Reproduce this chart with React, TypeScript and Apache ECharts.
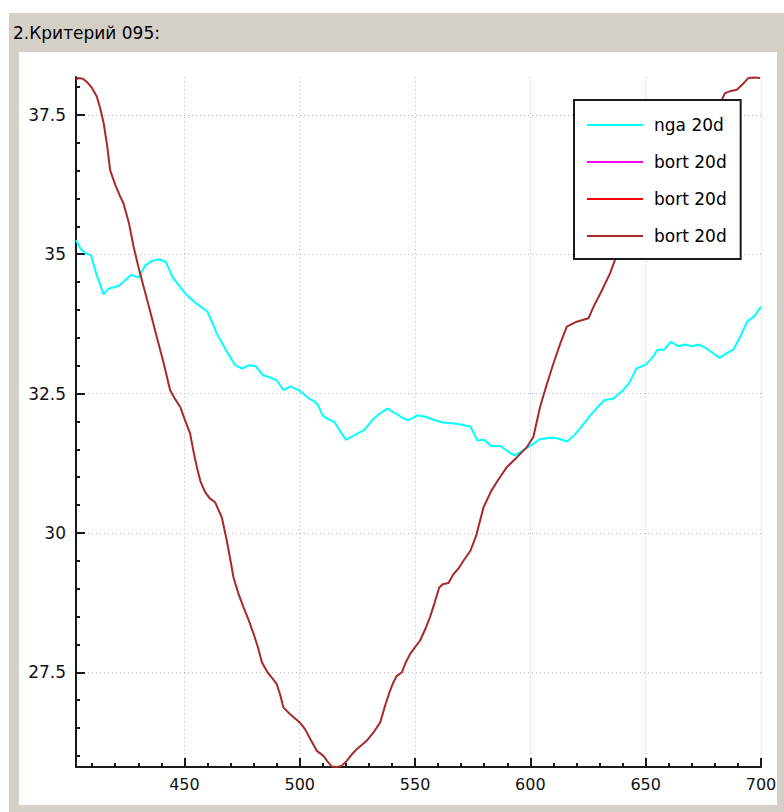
import React, { useEffect, useRef } from "react";
import * as echarts from "echarts";

// Axis extents and tick positions
const X_MIN = 403;
const X_MAX = 700;
const Y_MIN = 25.8;
const Y_MAX = 38.18;

const xMajorTicks = [450, 500, 550, 600, 650, 700];
const xMinorTicks = [
  410, 420, 430, 440, 460, 470, 480, 490, 510, 520, 530, 540, 560, 570, 580, 590,
  610, 620, 630, 640, 660, 670, 680, 690,
];
const yMajorTicks = [27.5, 30, 32.5, 35, 37.5];
const yMinorTicks = [
  26, 26.5, 27, 28, 28.5, 29, 29.5, 30.5, 31, 31.5, 32, 33, 33.5, 34, 34.5, 35.5, 36,
  36.5, 37, 38,
];

// nga 20d
const ngaX = [
  403, 405, 407, 409.5, 412, 415, 417, 418.6, 421.5, 424, 427, 430, 433, 436, 439, 442,
  445, 448, 451, 455, 460, 462, 464, 468, 472, 475, 478, 481, 484, 487, 490, 493, 496,
  500, 504, 506, 508, 510, 512, 515, 518, 520, 524, 528, 532, 535, 538, 541, 544, 547,
  551, 555, 558, 562, 568, 574, 577, 580, 583, 587, 590, 593, 596, 599, 602, 604, 607,
  610, 613, 616, 619, 622, 626, 629, 632, 636, 640, 643, 646, 650, 653, 655, 658, 661,
  664, 667, 670, 673, 676, 678, 682, 685, 688, 691, 694, 697, 700,
];
const ngaY = [
  35.25, 35.1, 35.02, 34.98, 34.62, 34.28, 34.38, 34.4, 34.43, 34.52, 34.63, 34.58,
  34.8, 34.88, 34.91, 34.86, 34.58, 34.42, 34.27, 34.12, 33.97, 33.78, 33.58, 33.28,
  33.01, 32.95, 33.01, 32.99, 32.83, 32.79, 32.74, 32.56, 32.63, 32.55, 32.41, 32.37,
  32.29, 32.1, 32.05, 31.99, 31.8, 31.67, 31.76, 31.85, 32.05, 32.15, 32.23, 32.16,
  32.08, 32.02, 32.11, 32.08, 32.03, 31.98, 31.96, 31.91, 31.66, 31.67, 31.56, 31.56,
  31.47, 31.39, 31.46, 31.54, 31.62, 31.68, 31.7, 31.71, 31.68, 31.64, 31.75, 31.9,
  32.11, 32.25, 32.38, 32.41, 32.55, 32.7, 32.95, 33.02, 33.15, 33.28, 33.29, 33.43,
  33.35, 33.38, 33.35, 33.38, 33.32, 33.26, 33.14, 33.22, 33.29, 33.52, 33.79, 33.88,
  34.06,
];

// bort 20d
const bortX = [
  403, 404, 406, 408, 410, 412, 413.5, 415, 416.5, 417.8, 420, 422, 423.6, 426, 428, 430,
  432.3, 435, 438, 441, 443.8, 446, 448.2, 450.3, 452.5, 454, 455.4, 457, 459, 461,
  463.3, 466.2, 468.4, 470, 471.3, 473.5, 475.6, 478, 480, 482, 483.6, 486, 488, 490,
  491.5, 492.9, 496, 500, 502.3, 505, 507.4, 510.3, 512, 513.9, 516, 518.2, 520.4,
  522.5, 524.7, 527, 529, 532, 534.9, 537, 539, 540.6, 542, 544.3, 546, 547.9, 550,
  552.2, 554.5, 556.5, 558.5, 560.5, 562, 564.5, 566.5, 569, 571, 574, 576.5, 579.7, 583,
  586, 589.8, 594, 598.5, 601.3, 604.2, 607, 610, 613, 615.8, 620.1, 625.2, 627.4, 631,
  634.6, 636.7, 642, 648, 654, 660, 666, 672, 678, 683, 684.4, 687, 689.5, 692, 694.5,
  697, 699.6,
];
const bortY = [
  38.13, 38.16, 38.15, 38.08, 37.98, 37.83, 37.62, 37.35, 36.95, 36.51, 36.25, 36.05,
  35.91, 35.55, 35.13, 34.78, 34.42, 34.0, 33.52, 33.05, 32.56, 32.4, 32.26, 32.02,
  31.78, 31.45, 31.18, 30.92, 30.73, 30.62, 30.55, 30.28, 29.86, 29.5, 29.2, 28.9,
  28.67, 28.42, 28.19, 27.93, 27.68, 27.5, 27.4, 27.29, 27.1, 26.87, 26.74, 26.6,
  26.48, 26.27, 26.09, 26.0, 25.9, 25.81, 25.8, 25.82, 25.91, 26.02, 26.12, 26.2,
  26.27, 26.42, 26.6, 26.9, 27.15, 27.32, 27.43, 27.5, 27.68, 27.83, 27.95, 28.07,
  28.28, 28.49, 28.75, 29.02, 29.08, 29.1, 29.25, 29.37, 29.5, 29.68, 29.95, 30.46,
  30.75, 30.95, 31.18, 31.35, 31.54, 31.72, 32.26, 32.65, 33.04, 33.4, 33.7, 33.79,
  33.85, 34.06, 34.35, 34.66, 34.9, 35.4, 35.9, 36.35, 36.75, 37.05, 37.35, 37.6,
  37.77, 37.89, 37.93, 37.95, 38.05, 38.16, 38.17, 38.16,
];

const seriesNames = ["nga 20d", "bort 20d (1)", "bort 20d (2)", "bort 20d (3)"];
const seriesColors = ["#00ffff", "#ff00ff", "#ff0000", "#a52a2a"];

const zip = (xs: number[], ys: number[]) => xs.map((x, i) => [x, ys[i]]);

const FONT = "DejaVu Sans";

export default function App() {
  const ref = useRef<HTMLDivElement>(null);

  useEffect(() => {
    if (!ref.current) return;
    const chart = echarts.init(ref.current, undefined, { renderer: "svg" });

    const gridLine = { show: true, lineStyle: { color: "#b8b8b8", width: 1, type: [1, 3] as any } };
    const axisLine = { show: true, lineStyle: { color: "#1a1a1a", width: 2 } };

    chart.setOption({
      animation: false,
      backgroundColor: "transparent",
      title: {
        text: "2.Критерий 095:",
        left: 13,
        top: 24,
        padding: 0,
        textStyle: { fontFamily: FONT, fontSize: 17, fontWeight: "normal", color: "#000" },
      },
      grid: { left: 76, top: 77, right: 23, bottom: 45, containLabel: false },
      legend: {
        orient: "vertical",
        left: 574,
        top: 100,
        z: 20,
        padding: [15, 14, 13, 13],
        itemWidth: 56,
        itemHeight: 2,
        itemGap: 17,
        icon: "rect",
        backgroundColor: "#ffffff",
        borderColor: "#1a1a1a",
        borderWidth: 2,
        borderRadius: 0,
        selectedMode: false,
        data: seriesNames,
        formatter: (name: string) => name.replace(/ \(\d\)$/, ""),
        textStyle: {
          fontFamily: FONT,
          fontSize: 17,
          color: "#000",
          lineHeight: 20,
          padding: [0, 0, 0, 6],
        },
      },
      xAxis: [
        {
          type: "value",
          min: X_MIN,
          max: X_MAX,
          position: "bottom",
          axisLine,
          axisTick: { show: true, inside: true, length: 9, customValues: xMajorTicks, lineStyle: { color: "#1a1a1a", width: 2 } },
          axisLabel: {
            show: true,
            customValues: xMajorTicks,
            margin: 9,
            fontFamily: FONT,
            fontSize: 16,
            color: "#111",
          },
          splitLine: gridLine,
        },
        {
          type: "value",
          min: X_MIN,
          max: X_MAX,
          position: "bottom",
          axisLine: { show: false },
          axisTick: { show: true, inside: true, length: 4, customValues: xMinorTicks, lineStyle: { color: "#1a1a1a", width: 2 } },
          axisLabel: { show: false },
          splitLine: { show: false },
        },
      ],
      yAxis: [
        {
          type: "value",
          min: Y_MIN,
          max: Y_MAX,
          position: "left",
          axisLine,
          axisTick: { show: true, inside: true, length: 9, customValues: yMajorTicks, lineStyle: { color: "#1a1a1a", width: 2 } },
          axisLabel: {
            show: true,
            customValues: yMajorTicks,
            margin: 10,
            fontFamily: FONT,
            fontSize: 17,
            color: "#111",
          },
          splitLine: gridLine,
        },
        {
          type: "value",
          min: Y_MIN,
          max: Y_MAX,
          position: "left",
          axisLine: { show: false },
          axisTick: { show: true, inside: true, length: 4, customValues: yMinorTicks, lineStyle: { color: "#1a1a1a", width: 2 } },
          axisLabel: { show: false },
          splitLine: { show: false },
        },
      ],
      series: [
        {
          name: seriesNames[0],
          type: "line",
          data: zip(ngaX, ngaY),
          showSymbol: false,
          color: seriesColors[0],
          lineStyle: { color: seriesColors[0], width: 2 },
          z: 3,
        },
        {
          name: seriesNames[1],
          type: "line",
          data: [],
          showSymbol: false,
          color: seriesColors[1],
          lineStyle: { color: seriesColors[1], width: 2 },
        },
        {
          name: seriesNames[2],
          type: "line",
          data: [],
          showSymbol: false,
          color: seriesColors[2],
          lineStyle: { color: seriesColors[2], width: 2 },
        },
        {
          name: seriesNames[3],
          type: "line",
          data: zip(bortX, bortY),
          showSymbol: false,
          color: seriesColors[3],
          lineStyle: { color: seriesColors[3], width: 2 },
          z: 4,
        },
      ],
    });

    return () => chart.dispose();
  }, []);

  return (
    <div style={{ position: "absolute", left: 0, top: 0, width: 784, height: 812, background: "#ffffff", overflow: "hidden" }}>
      <div style={{ position: "absolute", left: 9, top: 13, width: 775, height: 799, background: "#d4d0c8" }} />
      <div style={{ position: "absolute", left: 19, top: 52, width: 758, height: 753, background: "#ffffff" }} />
      <div ref={ref} style={{ position: "absolute", left: 0, top: 0, width: 784, height: 812 }} />
    </div>
  );
}
